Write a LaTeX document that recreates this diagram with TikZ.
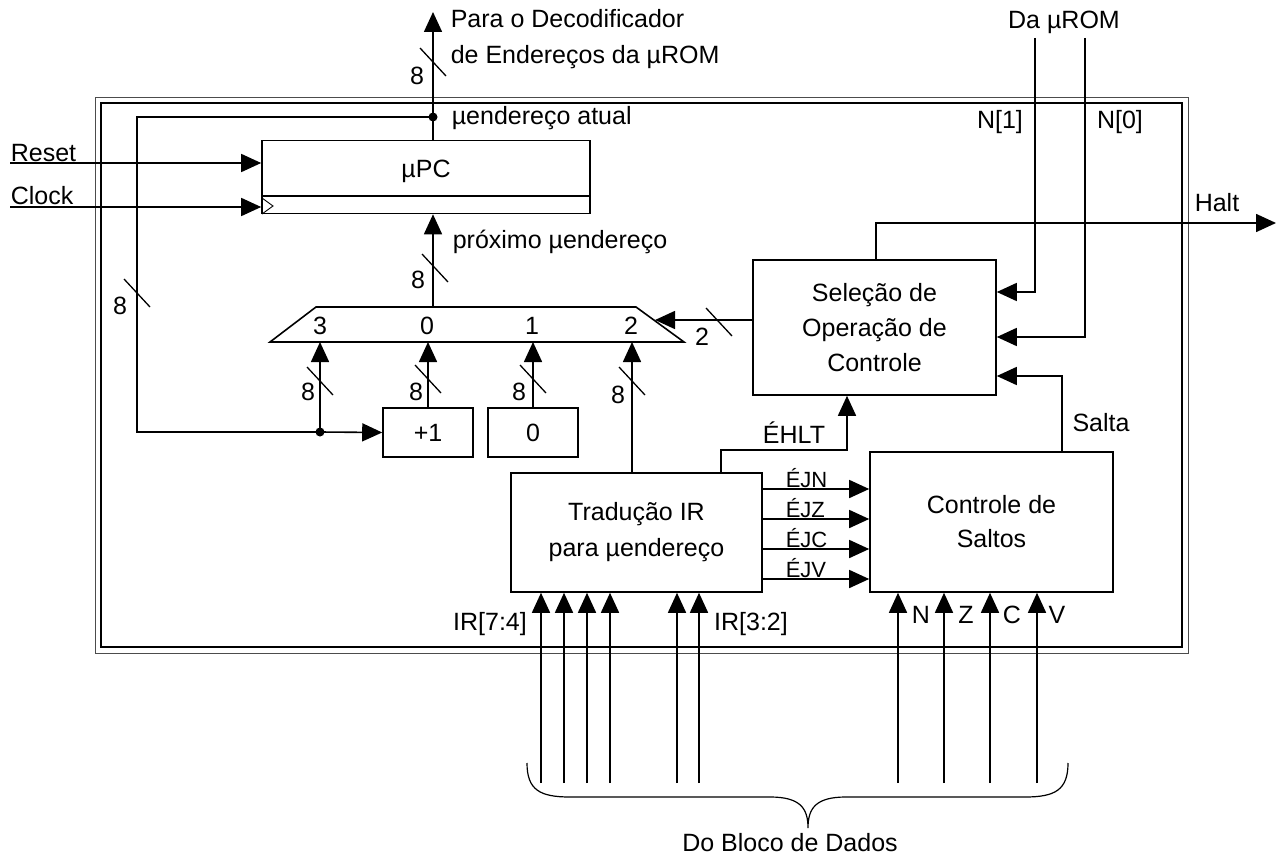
\documentclass[tikz,border=0pt]{standalone}
\usepackage{fontspec}
\setmainfont{Liberation Sans}
\usetikzlibrary{arrows.meta}
\begin{document}
\begin{tikzpicture}[x=1pt,y=-1pt,line width=1.6pt,
  every node/.style={font=\fontsize{25}{29}\selectfont,inner sep=0pt},
  arr/.style={-{Triangle[length=20pt,width=18pt]}},
  blk/.style={draw,rectangle,line width=1.6pt},
  lbl/.style={anchor=base west},
  bus/.pic={\draw[line width=1.3pt] (-13,-14) -- (13,14);},
  dot/.style={circle,fill,minimum size=9pt,inner sep=0pt}]
\useasboundingbox (0,0) rectangle (1277,856);
% frame
\draw[line width=0.9pt,black!70] (95,97) rectangle (1188,653);
\draw[line width=1.9pt] (101,103) rectangle (1182,647);
% blocks
\node[blk,minimum width=328pt,minimum height=73pt] (upc) at (426,177) {};
\draw (262,196) -- (590,196);
\draw[line width=0.9pt] (262,198) -- (273,206) -- (262,214);
\node at (426,171) {µPC};
\node[blk,minimum width=90pt,minimum height=49pt] (plus1) at (428,432.5) {+1};
\node[blk,minimum width=90pt,minimum height=49pt] (zero) at (533,432.5) {0};
\node[blk,minimum width=243pt,minimum height=135pt,align=center,font=\fontsize{25}{35}\selectfont] (sel) at (874.5,327.5) {Seleção de\\Operação de\\Controle};
\node[blk,minimum width=251pt,minimum height=119pt,align=center,font=\fontsize{25}{36}\selectfont] (trad) at (636.5,532.5) {Tradução IR\\para µendereço};
\node[blk,minimum width=243pt,minimum height=140pt,align=center,font=\fontsize{25}{34}\selectfont] (ctrl) at (991.5,522) {Controle de\\Saltos};
% mux
\coordinate (mA) at (270,342);
\coordinate (mB) at (316,307);
\coordinate (mC) at (636,307);
\coordinate (mD) at (684,342);
\draw (mA) -- (mB) -- (mC) -- (mD) -- cycle;
\node at (320,326) {3};
\node at (427,326) {0};
\node at (532,326) {1};
\node at (631,326) {2};
\coordinate (in3) at (320,342);
\coordinate (in0) at (428,342);
\coordinate (in1) at (533,342);
\coordinate (in2) at (632,342);
\coordinate (mout) at (433,307);
\coordinate (muxr) at (655,320);
% top output
\coordinate (tj) at (433,117);
\coordinate (topout) at (433,12);
\draw[arr] (upc.north -| tj) -- (tj) -- (topout);
\node[dot] (tjd) at (tj) {};
\pic at (433,62) {bus};
\node at (417,76) {8};
\node[lbl] at (450,28) {Para o Decodificador};
\node[lbl] at (450,64) {de Endereços da µROM};
\node[lbl] at (451,125) {µendereço atual};
% feedback
\coordinate (fb1) at (137,117);
\coordinate (fb2) at (137,432);
\coordinate (jd) at (320,432);
\draw[arr] (tj) -- (fb1) -- (fb2) -- (jd) -- (plus1.west);
\node[dot] (jdd) at (jd) {};
\draw[arr] (jd) -- (in3);
\pic at (137,293) {bus};
\node at (120,306) {8};
% mux inputs
\draw[arr] (plus1.north -| in0) -- (in0);
\draw[arr] (zero.north) -- (in1);
\draw[arr] (trad.north -| in2) -- (in2);
\pic at (320,381) {bus};
\pic at (428,379) {bus};
\pic at (533,379) {bus};
\pic at (632,381) {bus};
\node at (308,392) {8};
\node at (416,392) {8};
\node at (519,392) {8};
\node at (618,395) {8};
% mux output
\draw[arr] (mout) -- (upc.south -| mout);
\pic at (435,268) {bus};
\node at (418,280) {8};
\node[lbl] at (452,248) {próximo µendereço};
% sel -> mux
\draw[arr] (sel.west |- muxr) -- (muxr);
\pic at (719,322) {bus};
\node at (702,337) {2};
% reset / clock
\coordinate (rst) at (10,163);
\coordinate (clk) at (10,207);
\draw[arr] (rst) -- (upc.west |- rst);
\draw[arr] (clk) -- (upc.west |- clk);
\node[lbl] at (10,161) {Reset};
\node[lbl] at (10,204) {Clock};
% halt
\coordinate (h1) at (876,223);
\coordinate (haltout) at (1276,223);
\draw[arr] (sel.north -| h1) -- (h1) -- (haltout);
\node at (1217,203) {Halt};
% N[1], N[0]
\coordinate (n1top) at (1035,38);
\coordinate (n1b) at (1035,292);
\coordinate (n0top) at (1085,38);
\coordinate (n0b) at (1085,337);
\draw[arr] (n1top) -- (n1b) -- (sel.east |- n1b);
\draw[arr] (n0top) -- (n0b) -- (sel.east |- n0b);
\node at (1064,22) {Da µROM};
\node at (1000,122) {N[1]};
\node at (1120,122) {N[0]};
% salta
\coordinate (s1) at (1062,376);
\draw[arr] (ctrl.north -| s1) -- (s1) -- (sel.east |- s1);
\node at (1101,423) {Salta};
% EHLT
\coordinate (e1) at (721,450);
\coordinate (e2) at (847,450);
\draw[arr] (trad.north -| e1) -- (e1) -- (e2) -- (sel.south -| e2);
\node at (794,433) {ÉHLT};
% EJx
\foreach \y/\t in {489/ÉJN,519/ÉJZ,549/ÉJC,579/ÉJV}{
  \coordinate (j) at (0,\y);
  \draw[arr] (trad.east |- j) -- (ctrl.west |- j);
  \node[lbl,font=\fontsize{22}{26}\selectfont] at (785,\y-2) {\t};
}
% bottom inputs
\foreach \x in {541,564,587,610,677,699,898,944,990,1037}{
  \coordinate (b) at (\x,783);
  \draw[arr] (b) -- (b |- trad.south);
}
\node at (490,624) {IR[7:4]};
\node at (751,624) {IR[3:2]};
\node at (921,615) {N};
\node at (966,615) {Z};
\node at (1012,615) {C};
\node at (1057,615) {V};
% brace
\draw[line width=1.2pt] (527,763) .. controls (527,790) and (540,797) .. (570,797) -- (770,797) .. controls (800,797) and (808,808) .. (808,828) .. controls (808,808) and (816,797) .. (846,797) -- (1025,797) .. controls (1055,797) and (1068,790) .. (1068,763);
\node at (790,843) {Do Bloco de Dados};
\end{tikzpicture}
\end{document}
